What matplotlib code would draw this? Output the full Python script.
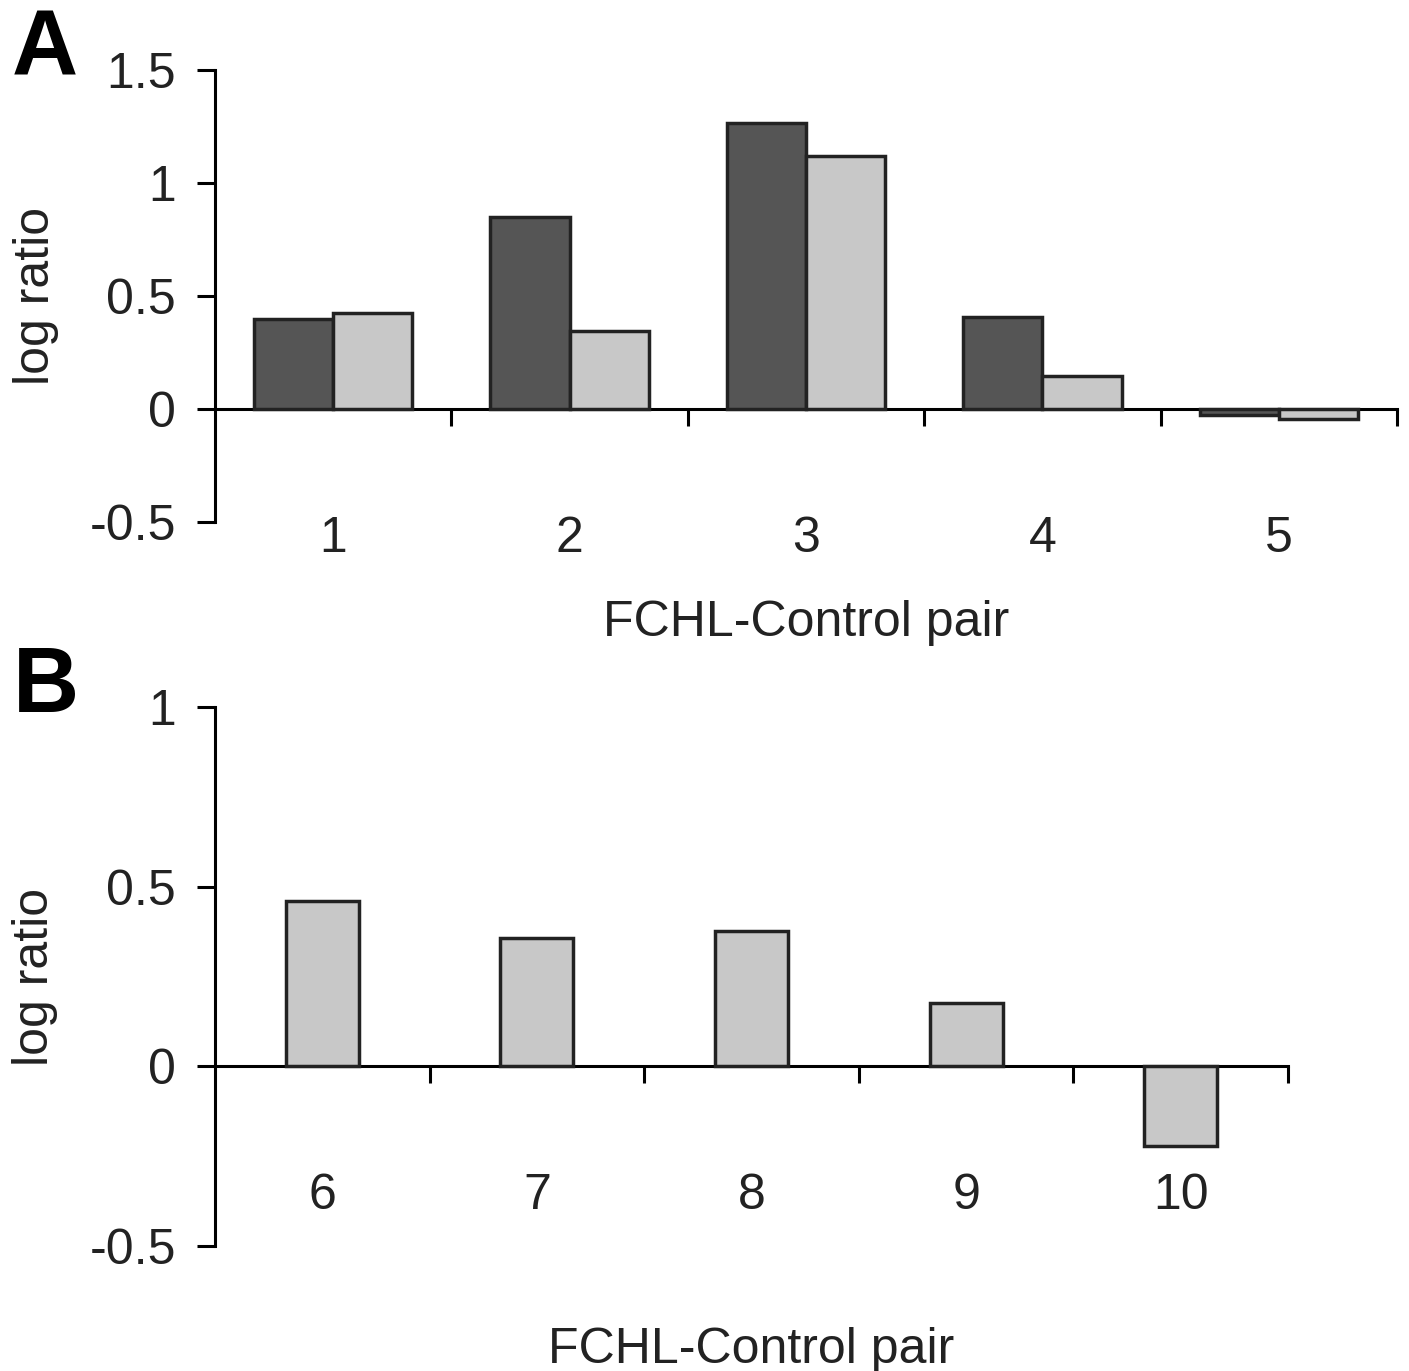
import matplotlib.pyplot as plt
import numpy as np

plt.rcParams['font.family'] = ['Liberation Sans', 'DejaVu Sans']

# panel A data
pairs_a = [1, 2, 3, 4, 5]
dark_a = [0.40, 0.85, 1.265, 0.405, -0.025]
light_a = [0.425, 0.345, 1.12, 0.145, -0.045]

# panel B data
pairs_b = [6, 7, 8, 9, 10]
light_b = [0.46, 0.357, 0.376, 0.175, -0.223]

dark_col = '#555555'
light_col = '#c8c8c8'
edge_col = '#222222'
txt_col = '#222222'

fig = plt.figure(figsize=(14.09, 13.71), dpi=100)
ax1 = fig.add_axes([0.1526, 0.6193, 0.8389, 0.3296])
ax2 = fig.add_axes([0.1526, 0.0912, 0.7615, 0.3931])


def style(ax, cats, ylim, yticks, yticklabels):
    ax.set_xlim(cats[0] - 0.5, cats[-1] + 0.5)
    ax.set_ylim(*ylim)
    for s in ['top', 'right']:
        ax.spines[s].set_visible(False)
    ax.spines['bottom'].set_position(('data', 0))
    ax.spines['left'].set_linewidth(2.2)
    ax.spines['bottom'].set_linewidth(2.2)
    ax.spines['left'].set_color('black')
    ax.spines['bottom'].set_color('black')
    ax.set_yticks(yticks)
    ax.set_yticklabels(yticklabels)
    ax.tick_params(axis='y', direction='out', length=13, width=2.2,
                   labelsize=36, pad=15, labelcolor=txt_col)
    # boundary ticks on the zero line, labels centred in categories
    ax.set_xticks(np.array(cats) + 0.5)
    ax.set_xticklabels([])
    ax.set_xticks(cats, minor=True)
    ax.set_xticklabels([str(c) for c in cats], minor=True)
    ax.tick_params(axis='x', which='major', direction='out', length=12,
                   width=2.2)
    ax.tick_params(axis='x', which='minor', length=0, labelsize=36,
                   pad=77, labelcolor=txt_col)
    ax.set_ylabel('log ratio', fontsize=36, color=txt_col)


x_a = np.array(pairs_a)
w = 0.335
ax1.bar(x_a - w / 2, dark_a, w, color=dark_col, edgecolor=edge_col,
        linewidth=2.5, zorder=3)
ax1.bar(x_a + w / 2, light_a, w, color=light_col, edgecolor=edge_col,
        linewidth=2.5, zorder=3)
style(ax1, pairs_a, (-0.5, 1.5), [-0.5, 0, 0.5, 1, 1.5],
      ['-0.5', '0', '0.5', '1', '1.5'])
ax1.set_xlabel('FCHL-Control pair', fontsize=36, color=txt_col)
ax1.xaxis.set_label_coords(0.5, -0.172)
ax1.yaxis.set_label_coords(-0.132, 0.5)

ax2.bar(pairs_b, light_b, 0.34, color=light_col, edgecolor=edge_col,
        linewidth=2.5, zorder=3)
style(ax2, pairs_b, (-0.5, 1.0), [-0.5, 0, 0.5, 1],
      ['-0.5', '0', '0.5', '1'])
ax2.set_xlabel('FCHL-Control pair', fontsize=36, color=txt_col)
ax2.xaxis.set_label_coords(0.5, -0.150)
ax2.yaxis.set_label_coords(-0.146, 0.5)

fig.text(0.008, 0.9453, 'A', fontsize=66, fontweight='bold', color='black')
fig.text(0.009, 0.4807, 'B', fontsize=66, fontweight='bold', color='black')

fig.savefig('out.png', dpi=100)
